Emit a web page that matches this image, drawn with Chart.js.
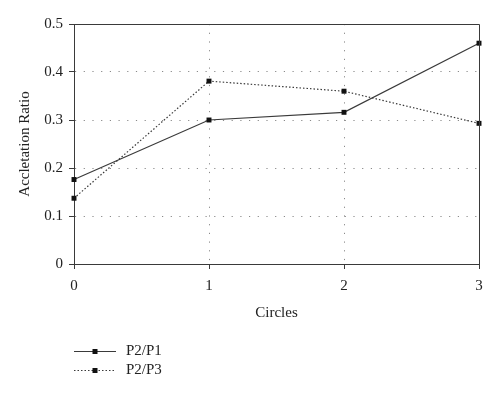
<!DOCTYPE html>
<html>
<head>
<meta charset="utf-8">
<script src="https://cdn.jsdelivr.net/npm/chart.js@4/dist/chart.umd.min.js"></script>
<style>
  html, body { margin: 0; padding: 0; background: #fff; }
  #wrap { width: 500px; height: 393px; }
</style>
</head>
<body>
<div id="wrap"><canvas id="chart"></canvas></div>
<script>
// datos
const circles = [0, 1, 2, 3];
const p2p1 = [0.176, 0.300, 0.316, 0.460];
const p2p3 = [0.137, 0.381, 0.360, 0.293];
const seriesNames = ['P2/P1', 'P2/P3'];
const xTitle = 'Circles';
const yTitle = 'Accletation Ratio';

const FONT = "'Liberation Serif', 'DejaVu Serif', serif";
const INK = '#3a3a3a';

// marco superior y derecho
const framePlugin = {
    id: 'frame',
    afterDatasetsDraw(chart) {
        const { ctx, chartArea: a } = chart;
        ctx.save();
        ctx.strokeStyle = INK;
        ctx.lineWidth = 1;
        ctx.beginPath();
        ctx.moveTo(a.left, a.top + 0.5);
        ctx.lineTo(a.right + 0.5, a.top + 0.5);
        ctx.lineTo(a.right + 0.5, a.bottom);
        ctx.stroke();
        ctx.restore();
    }
};

// leyenda abajo a la izquierda
const legendPlugin = {
    id: 'sideLegend',
    afterDraw(chart) {
        const { ctx } = chart;
        const x0 = 74, x1 = 116, tx = 126;
        const rows = [351, 370];
        ctx.save();
        chart.data.datasets.forEach((ds, i) => {
            const y = rows[i] + 0.5;
            ctx.strokeStyle = ds.borderColor;
            ctx.lineWidth = ds.borderWidth;
            ctx.setLineDash(ds.borderDash || []);
            ctx.beginPath();
            ctx.moveTo(x0, y);
            ctx.lineTo(x1, y);
            ctx.stroke();
            ctx.setLineDash([]);
            ctx.fillStyle = ds.pointBackgroundColor;
            ctx.fillRect(95 - 2.5, y - 2.5, 5, 5);
            ctx.fillStyle = '#222';
            ctx.font = '15px ' + FONT;
            ctx.textBaseline = 'middle';
            ctx.fillText(ds.label, tx, y);
        });
        ctx.restore();
    }
};

const gridColor = (ctx) => {
    const v = ctx.tick ? ctx.tick.value : null;
    return (ctx.index === 0 || v === 3 || v === 0.5) ? 'rgba(0,0,0,0)' : '#8a8a8a';
};

new Chart(document.getElementById('chart').getContext('2d'), {
    type: 'line',
    data: {
        datasets: [
            {
                label: seriesNames[0],
                data: circles.map((c, i) => ({ x: c, y: p2p1[i] })),
                borderColor: INK, borderWidth: 1.2, borderDash: [],
                pointStyle: 'rect', pointRadius: 3.5, pointBorderWidth: 0,
                pointBackgroundColor: '#111', tension: 0, clip: false
            },
            {
                label: seriesNames[1],
                data: circles.map((c, i) => ({ x: c, y: p2p3[i] })),
                borderColor: INK, borderWidth: 1.2, borderDash: [1.5, 2],
                pointStyle: 'rect', pointRadius: 3.5, pointBorderWidth: 0,
                pointBackgroundColor: '#111', tension: 0, clip: false
            }
        ]
    },
    options: {
        responsive: true,
        maintainAspectRatio: false,
        animation: false,
        layout: { padding: { left: 0, right: 21, top: 24, bottom: 0 } },
        plugins: { legend: { display: false }, tooltip: { enabled: false } },
        scales: {
            x: {
                type: 'linear', min: 0, max: 3,
                afterFit: (s) => { s.height = 129; },
                ticks: { stepSize: 1, padding: 8, color: '#222', font: { family: FONT, size: 15 } },
                grid: { color: gridColor, tickColor: INK, tickLength: 5, lineWidth: 1 },
                border: { color: INK, width: 1, dash: [1.2, 7.5] },
                title: { display: true, text: xTitle, color: '#222', font: { family: FONT, size: 15 }, padding: { top: 0, bottom: 71 } }
            },
            y: {
                min: 0, max: 0.5,
                afterFit: (s) => { s.width = 74; },
                ticks: {
                    stepSize: 0.1, padding: 6, color: '#222', font: { family: FONT, size: 15 },
                    callback: (v) => v === 0 ? '0' : v.toFixed(1)
                },
                grid: { color: gridColor, tickColor: INK, tickLength: 5, lineWidth: 1 },
                border: { color: INK, width: 1, dash: [1.2, 7.5] },
                title: { display: true, text: yTitle, color: '#222', font: { family: FONT, size: 15 }, padding: { top: 16, bottom: 0 } }
            }
        }
    },
    plugins: [framePlugin, legendPlugin]
});
</script>
</body>
</html>
